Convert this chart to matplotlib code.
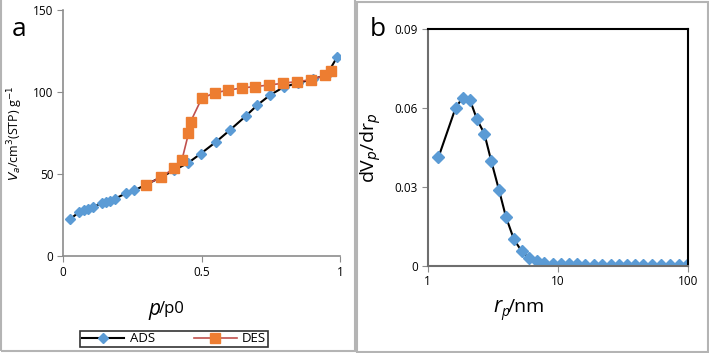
import matplotlib
matplotlib.use("Agg")
import matplotlib.pyplot as plt
from matplotlib.patches import Rectangle
from matplotlib.lines import Line2D

plt.rcParams["font.family"] = ["Open Sans", "DejaVu Sans"]

# --- panel a: N2 isotherm ---
ads_p = [0.024, 0.057, 0.075, 0.090, 0.110, 0.139, 0.154, 0.169, 0.187, 0.227,
         0.257, 0.300, 0.353, 0.400, 0.452, 0.498, 0.554, 0.602, 0.659, 0.702,
         0.748, 0.798, 0.849, 0.901, 0.952, 0.990]
ads_v = [22.3, 26.6, 27.8, 28.8, 30.0, 32.1, 32.9, 33.7, 34.9, 38.2,
         40.0, 43.5, 48.0, 52.2, 56.8, 62.5, 69.8, 76.7, 85.2, 92.1,
         98.2, 103.1, 105.5, 107.8, 110.4, 121.4]
des_p = [0.299, 0.352, 0.402, 0.429, 0.453, 0.461, 0.501, 0.548, 0.596, 0.646,
         0.694, 0.745, 0.794, 0.845, 0.894, 0.947, 0.969]
des_v = [43.4, 47.9, 53.6, 58.3, 74.7, 82.0, 96.2, 99.5, 101.1, 102.5,
         103.3, 104.3, 105.3, 106.4, 107.4, 110.2, 112.7]

# --- panel b: pore size distribution ---
rp = [1.21, 1.64, 1.86, 2.11, 2.39, 2.72, 3.08, 3.53, 3.99, 4.59,
      5.25, 6.0, 6.86, 7.85, 9.1, 10.5, 12.1, 14.1, 16.2, 18.9,
      21.8, 25.4, 29.2, 33.7, 39.0, 45.1, 52.4, 61.7, 72.4, 84.9, 98.0]
dvdr = [0.0413, 0.0602, 0.0640, 0.0631, 0.0557, 0.0503, 0.0397, 0.0287, 0.0185, 0.0100,
        0.0056, 0.0028, 0.0018, 0.0010, 0.0007, 0.0006, 0.0006, 0.0005, 0.0004, 0.0003,
        0.0003, 0.0003, 0.0002, 0.0002, 0.0003, 0.0002, 0.0002, 0.0001, 0.0001, 0.0001, 0.0001]

W, H = 709, 353
fig = plt.figure(figsize=(W / 100, H / 100), dpi=100)

def fx(px):
    return px / W

def fy(py):
    return 1 - py / H

# panel frames
fig.patches.append(Rectangle((fx(1), fy(351)), fx(354), 351 / H + 0.01, transform=fig.transFigure,
                             fill=False, edgecolor="#b4b4b4", lw=1.5, clip_on=False))
fig.patches.append(Rectangle((fx(357), fy(352)), fx(351), 350 / H, transform=fig.transFigure,
                             fill=False, edgecolor="#b4b4b4", lw=1.5))

blue = "#5B9BD5"
orange = "#ED7D31"

# ---------------- panel a ----------------
ax = fig.add_axes([fx(63), fy(256), fx(277), 246 / H])
ax.plot(ads_p, ads_v, color="black", lw=1.5, marker="D", ms=5.5,
        mfc=blue, mec=blue, zorder=3, label="ADS")
ax.plot(des_p, des_v, color="#C0504D", lw=1.2, marker="s", ms=7.5,
        mfc=orange, mec=orange, zorder=4, label="DES")
ax.set_xlim(0, 1)
ax.set_ylim(0, 150)
ax.set_xticks([0, 0.5, 1])
ax.set_xticklabels(["0", "0.5", "1"])
ax.set_yticks([0, 50, 100, 150])
for s in ["top", "right"]:
    ax.spines[s].set_visible(False)
for s in ["left", "bottom"]:
    ax.spines[s].set_color("#8c8c8c")
    ax.spines[s].set_linewidth(1.2)
ax.tick_params(direction="out", length=4, color="#8c8c8c", labelsize=8.5, pad=3)
ax.set_ylabel(r"$V_a$/cm$^3$(STP) g$^{-1}$", fontsize=9, labelpad=6)
fig.text(fx(148), fy(309), "p", fontsize=15, style="italic", ha="left", va="center")
fig.text(fx(159), fy(309), "/p0", fontsize=12, ha="left", va="center")
fig.text(fx(12), fy(30), "a", fontsize=19, ha="left", va="center")

handles = [Line2D([], [], color="black", lw=1.5, marker="D", ms=5.5, mfc=blue, mec=blue),
           Line2D([], [], color="#C0504D", lw=1.2, marker="s", ms=7.5, mfc=orange, mec=orange)]
leg = fig.legend(handles, ["ADS", "DES"], loc="center", bbox_to_anchor=(fx(174), fy(339)),
                 ncol=2, frameon=True, fancybox=False, fontsize=9.5, handlelength=3.2,
                 columnspacing=3.0, borderpad=0.15, handletextpad=0.4, borderaxespad=0)
leg.get_frame().set_edgecolor("black")
leg.get_frame().set_linewidth(1.2)

# ---------------- panel b ----------------
bx = fig.add_axes([fx(427.7), fy(265.7), fx(260.6), 236.4 / H])
bx.plot(rp, dvdr, color="black", lw=1.5, marker="D", ms=6, mfc=blue, mec=blue)
bx.set_xscale("log")
bx.set_xlim(1, 100)
bx.set_ylim(0, 0.09)
bx.set_xticks([1, 10, 100])
bx.set_xticklabels(["1", "10", "100"])
bx.xaxis.set_minor_locator(matplotlib.ticker.NullLocator())
bx.set_yticks([0, 0.03, 0.06, 0.09])
bx.set_yticklabels(["0", "0.03", "0.06", "0.09"])
for s in ["top", "right"]:
    bx.spines[s].set_color("black")
    bx.spines[s].set_linewidth(1.5)
for s in ["left", "bottom"]:
    bx.spines[s].set_color("#6e6e6e")
    bx.spines[s].set_linewidth(1.5)
bx.tick_params(direction="out", length=4, color="#8c8c8c", labelsize=8.5, pad=3)
bx.set_ylabel(r"dV$_p$/dr$_p$", fontsize=14, labelpad=8)
fig.text(fx(493), fy(307), "r", fontsize=15, style="italic", ha="left", va="center")
fig.text(fx(501), fy(313), "p", fontsize=10, style="italic", ha="left", va="center")
fig.text(fx(508), fy(307), "/nm", fontsize=14, ha="left", va="center")
fig.text(fx(370), fy(30), "b", fontsize=19, ha="left", va="center")

fig.savefig("out.png", dpi=100)
